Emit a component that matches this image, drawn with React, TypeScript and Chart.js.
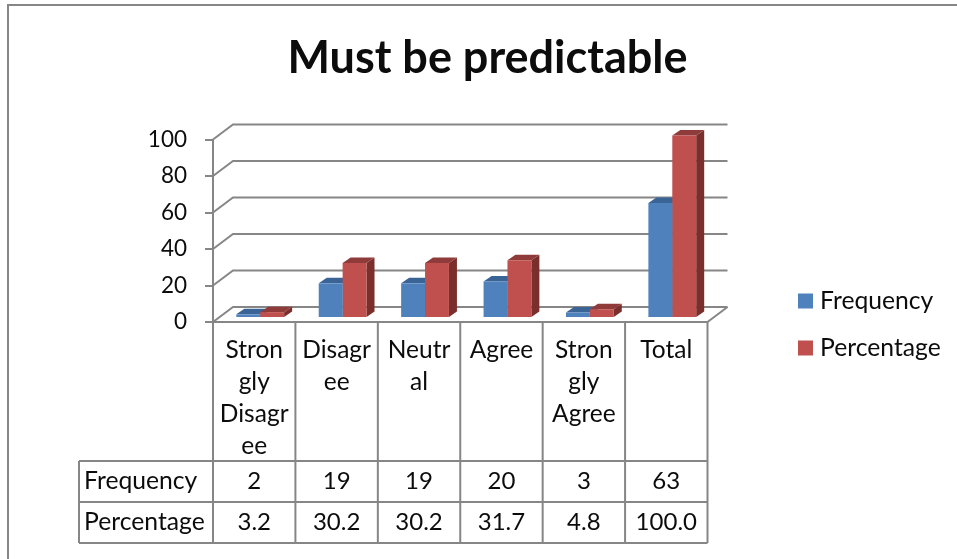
import React, { useEffect, useRef } from "react";
import { Chart, registerables } from "chart.js";

Chart.register(...registerables);

const categories: string[][] = [
  ["Stron", "gly", "Disagr", "ee"],
  ["Disagr", "ee"],
  ["Neutr", "al"],
  ["Agree"],
  ["Stron", "gly", "Agree"],
  ["Total"],
];
const frequency = [2, 19, 19, 20, 3, 63];
const percentage = [3.2, 30.2, 30.2, 31.7, 4.8, 100.0];
const yTicks = { min: 0, max: 100, stepSize: 20 };
const chartTitle = "Must be predictable";
const seriesNames = ["Frequency", "Percentage"];

const FONT = "Lato, Carlito, Calibri, sans-serif";
const GREY = "#868686";
const TEXT = "#0c0c0c";
const BLUE = "#4F81BD";
const RED = "#C0504D";

const centerTitle = {
  id: "centerTitle",
  beforeDraw(chart: any) {
    // the title is centred on the whole frame rather than on the plot
    chart.titleBlock.left = 18;
    chart.titleBlock.right = 957;
  },
};

const depth3D = {
  id: "depth3D",
  beforeDatasetsDraw(chart: any) {
    const { ctx, scales, chartArea: ca } = chart;
    const y = scales.y;
    const dx = 20, dy = -15;
    ctx.save();
    ctx.strokeStyle = GREY;
    ctx.lineWidth = 2;
    // back wall grid lines + side wall diagonals
    y.ticks.forEach((t: any) => {
      const py = y.getPixelForValue(t.value);
      ctx.beginPath();
      ctx.moveTo(ca.left, py);
      ctx.lineTo(ca.left + dx, py + dy);
      ctx.lineTo(ca.right + dx, py + dy);
      ctx.stroke();
    });
    // floor right edge
    const y0 = y.getPixelForValue(0);
    ctx.beginPath();
    ctx.moveTo(ca.right, y0);
    ctx.lineTo(ca.right + dx, y0 + dy);
    ctx.stroke();
    ctx.restore();

    // bars are set back from the front plane
    ctx.save();
    ctx.translate(6, -4);
    const faceX = 8, faceY = -5.5;
    const faces = [
      { top: "#3B6496", side: "#37608F" },
      { top: "#8F3B39", side: "#7A2F2D" },
    ];
    [0, 1].forEach((di) => {
      chart.getDatasetMeta(di).data.forEach((b: any) => {
        const p = b.getProps(["x", "y", "base", "width"], true);
        const l = p.x - p.width / 2, r = p.x + p.width / 2;
        ctx.fillStyle = faces[di].side;
        ctx.beginPath();
        ctx.moveTo(r, p.y);
        ctx.lineTo(r + faceX, p.y + faceY);
        ctx.lineTo(r + faceX, p.base + faceY);
        ctx.lineTo(r, p.base);
        ctx.closePath();
        ctx.fill();
        ctx.fillStyle = faces[di].top;
        ctx.beginPath();
        ctx.moveTo(l, p.y);
        ctx.lineTo(l + faceX, p.y + faceY);
        ctx.lineTo(r + faceX, p.y + faceY);
        ctx.lineTo(r, p.y);
        ctx.closePath();
        ctx.fill();
      });
    });
  },
  afterDatasetsDraw(chart: any) {
    chart.ctx.restore();
  },
};

const dataTable = {
  id: "dataTable",
  afterDraw(chart: any) {
    const { ctx, scales, chartArea: ca } = chart;
    const x = scales.x;
    const n = categories.length;
    const step = (ca.right - ca.left) / n;
    const top = ca.bottom;
    const rows = [461, 502, 543];
    const tableLeft = 79;
    ctx.save();
    // outer chart frame, open towards the page edges
    ctx.strokeStyle = GREY;
    ctx.lineWidth = 2;
    ctx.beginPath();
    ctx.moveTo(8, 559);
    ctx.lineTo(8, 5);
    ctx.lineTo(957, 5);
    ctx.stroke();

    ctx.lineWidth = 2;
    ctx.beginPath();
    for (let i = 0; i <= n; i++) {
      const px = ca.left + step * i;
      ctx.moveTo(px, top);
      ctx.lineTo(px, rows[2]);
    }
    rows.forEach((r) => {
      ctx.moveTo(tableLeft, r);
      ctx.lineTo(ca.right, r);
    });
    ctx.moveTo(tableLeft, rows[0]);
    ctx.lineTo(tableLeft, rows[2]);
    ctx.stroke();

    ctx.fillStyle = TEXT;
    ctx.textBaseline = "middle";
    const table = [frequency.map(String), percentage.map((v) => v.toFixed(1))];
    table.forEach((vals, r) => {
      const cy = (rows[r] + rows[r + 1]) / 2;
      ctx.font = `24.7px ${FONT}`;
      ctx.textAlign = "left";
      ctx.fillText(seriesNames[r], 84, cy);
      ctx.font = `24px ${FONT}`;
      ctx.textAlign = "center";
      vals.forEach((v, i) => ctx.fillText(v, x.getPixelForValue(i), cy));
    });

    // legend
    const colors = [BLUE, RED];
    const ly = [301, 348];
    ctx.font = `24.7px ${FONT}`;
    chart.data.datasets.forEach((d: any, i: number) => {
      ctx.fillStyle = colors[i];
      ctx.fillRect(798, ly[i] - 7.5, 15, 15);
      ctx.fillStyle = TEXT;
      ctx.textAlign = "left";
      ctx.fillText(d.label, 820, ly[i]);
    });
    ctx.restore();
  },
};

export default function App() {
  const ref = useRef<HTMLCanvasElement>(null);
  useEffect(() => {
    const chart = new Chart(ref.current!, {
      type: "bar",
      data: {
        labels: categories,
        datasets: [
          { label: seriesNames[0], data: frequency, backgroundColor: BLUE, clip: false },
          { label: seriesNames[1], data: percentage, backgroundColor: RED, clip: false },
        ],
      },
      options: {
        animation: false,
        responsive: false,
        layout: { padding: { top: 31, left: 0, right: 249.5, bottom: 98 } },
        datasets: { bar: { categoryPercentage: 0.58, barPercentage: 1 } },
        plugins: {
          legend: { display: false },
          tooltip: { enabled: false },
          title: {
            display: true,
            text: chartTitle,
            color: TEXT,
            font: { family: FONT, size: 45, weight: "bold", lineHeight: 1.2 },
            padding: { top: 0, bottom: 54.5 },
          },
        },
        scales: {
          x: {
            grid: { display: false },
            border: { color: GREY, width: 2 },
            ticks: {
              autoSkip: false,
              maxRotation: 0,
              minRotation: 0,
              padding: 4,
              color: TEXT,
              font: { family: FONT, size: 24.5, lineHeight: 32 / 24.5 },
            },
            afterFit(s: any) {
              s.height = 139;
            },
          },
          y: {
            min: yTicks.min,
            max: yTicks.max,
            border: { color: GREY, width: 2 },
            grid: { drawOnChartArea: false, drawTicks: true, tickLength: 8, color: GREY, lineWidth: 2 },
            ticks: {
              stepSize: yTicks.stepSize,
              padding: 18,
              color: TEXT,
              font: { family: FONT, size: 22.5 },
            },
            afterFit(s: any) {
              s.width = 213;
            },
          },
        },
      },
      plugins: [centerTitle, depth3D, dataTable],
    } as any);
    return () => chart.destroy();
  }, []);
  return (
    <div style={{ position: "fixed", left: 0, top: 0, width: 957, height: 559, overflow: "hidden", background: "#fff" }}>
      <canvas ref={ref} width={957} height={559} style={{ display: "block" }} />
    </div>
  );
}
